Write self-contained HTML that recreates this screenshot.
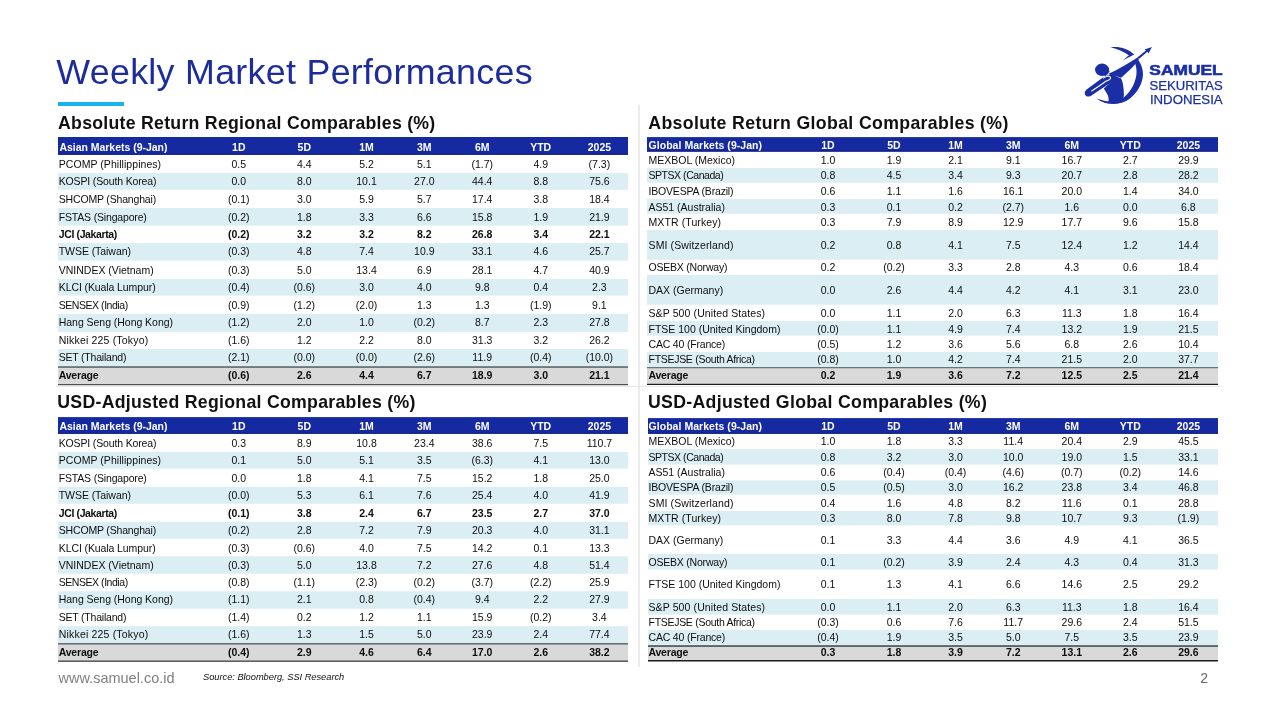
<!DOCTYPE html>
<html lang="en"><head><meta charset="utf-8"><title>Weekly Market Performances</title>
<style>
*{box-sizing:border-box}
html,body{margin:0;padding:0;background:#fff}
body{width:1280px;height:720px;position:relative;overflow:hidden;font-family:"Liberation Sans",Arial,sans-serif;color:#0d0d0d}
.bg{position:absolute;left:0;top:0}
.logo{position:absolute;left:1070px;top:30px}
.t{position:absolute;white-space:nowrap;line-height:14px;height:14px}
.title{color:#1c2c9c}
.sec{font-weight:700;color:#111}
.www{color:#808080}
.src{font-style:italic;color:#111}
.pg{color:#666}
.tbl{position:absolute;left:0;top:0;width:1280px;height:0}
.r{position:absolute;left:0;width:1280px;height:14px;line-height:14px;font-size:10.5px;white-space:nowrap}
.r span{position:absolute;top:0}
.c{width:60px;text-align:center}
.h{color:#fff;font-weight:700}
.b{font-weight:700}
</style></head>
<body>
<svg class="bg" width="1280" height="720" viewBox="0 0 1280 720">
<rect x="58.00" y="137.00" width="570.00" height="17.75" fill="#1529a0"/>
<rect x="58.00" y="153.75" width="570.00" height="1.00" fill="#0f1e84"/>
<rect x="58.00" y="173.10" width="570.00" height="16.65" fill="#daeef3"/>
<rect x="58.00" y="208.10" width="570.00" height="17.50" fill="#daeef3"/>
<rect x="58.00" y="243.10" width="570.00" height="17.50" fill="#daeef3"/>
<rect x="58.00" y="279.00" width="570.00" height="16.60" fill="#daeef3"/>
<rect x="58.00" y="314.00" width="570.00" height="17.90" fill="#daeef3"/>
<rect x="58.00" y="349.00" width="570.00" height="17.25" fill="#daeef3"/>
<rect x="58.00" y="366.25" width="570.00" height="1.65" fill="#566060"/>
<rect x="58.00" y="367.90" width="570.00" height="16.10" fill="#d9d9d9"/>
<rect x="58.00" y="384.00" width="570.00" height="1.25" fill="#505050"/>
<rect x="58.00" y="417.10" width="570.00" height="16.65" fill="#1529a0"/>
<rect x="58.00" y="432.75" width="570.00" height="1.00" fill="#0f1e84"/>
<rect x="58.00" y="451.90" width="570.00" height="16.85" fill="#daeef3"/>
<rect x="58.00" y="486.90" width="570.00" height="16.85" fill="#daeef3"/>
<rect x="58.00" y="521.90" width="570.00" height="16.85" fill="#daeef3"/>
<rect x="58.00" y="556.25" width="570.00" height="17.50" fill="#daeef3"/>
<rect x="58.00" y="591.25" width="570.00" height="17.50" fill="#daeef3"/>
<rect x="58.00" y="626.25" width="570.00" height="16.85" fill="#daeef3"/>
<rect x="58.00" y="643.10" width="570.00" height="1.65" fill="#566060"/>
<rect x="58.00" y="644.75" width="570.00" height="15.65" fill="#d9d9d9"/>
<rect x="58.00" y="660.40" width="570.00" height="1.50" fill="#505050"/>
<rect x="647.00" y="137.10" width="571.00" height="14.50" fill="#1529a0"/>
<rect x="647.00" y="150.60" width="571.00" height="1.00" fill="#0f1e84"/>
<rect x="647.00" y="168.10" width="571.00" height="14.65" fill="#daeef3"/>
<rect x="647.00" y="199.10" width="571.00" height="14.65" fill="#daeef3"/>
<rect x="647.00" y="230.00" width="571.00" height="29.70" fill="#daeef3"/>
<rect x="647.00" y="275.00" width="571.00" height="29.75" fill="#daeef3"/>
<rect x="647.00" y="321.00" width="571.00" height="14.70" fill="#daeef3"/>
<rect x="647.00" y="351.90" width="571.00" height="15.35" fill="#daeef3"/>
<rect x="647.00" y="367.25" width="571.00" height="1.25" fill="#3c4848"/>
<rect x="647.00" y="368.50" width="571.00" height="15.25" fill="#d9d9d9"/>
<rect x="647.00" y="383.75" width="571.00" height="1.25" fill="#1c1c1c"/>
<rect x="648.00" y="418.10" width="570.00" height="15.65" fill="#1529a0"/>
<rect x="648.00" y="432.75" width="570.00" height="1.00" fill="#0f1e84"/>
<rect x="648.00" y="449.10" width="570.00" height="15.50" fill="#daeef3"/>
<rect x="648.00" y="480.30" width="570.00" height="14.30" fill="#daeef3"/>
<rect x="648.00" y="511.00" width="570.00" height="14.40" fill="#daeef3"/>
<rect x="648.00" y="554.00" width="570.00" height="15.60" fill="#daeef3"/>
<rect x="648.00" y="599.00" width="570.00" height="15.60" fill="#daeef3"/>
<rect x="648.00" y="630.00" width="570.00" height="15.25" fill="#daeef3"/>
<rect x="648.00" y="645.25" width="570.00" height="1.65" fill="#3c4848"/>
<rect x="648.00" y="646.90" width="570.00" height="13.10" fill="#d9d9d9"/>
<rect x="648.00" y="660.00" width="570.00" height="1.50" fill="#1c1c1c"/>
<rect x="638.20" y="104.60" width="1.70" height="562.40" fill="#e8e8e8"/>
<rect x="55.70" y="385.80" width="1166.30" height="0.90" fill="#e2e2e2"/>
<rect x="58.00" y="102.00" width="66.00" height="4.00" fill="#19b4f0"/>
</svg>
<svg class="logo" width="160" height="80" viewBox="1070 30 160 80" aria-label="Samuel Sekuritas Indonesia">
<g transform="translate(1080 40) scale(0.0972)" fill="#1a2fa6">
<ellipse cx="227" cy="307" rx="72" ry="64"/>
<path d="M285 285 L304 322 L290 345 L262 372 L240 350Z"/>
<path d="M315 74 C400 62 500 88 558 150 L437 212 C465 190 490 170 503 158 C450 118 385 90 315 74Z"/>
<path d="M592 195 C628 240 650 300 648 355 C644 450 590 545 500 612 C410 672 270 682 168 598 C250 632 340 648 430 605 C510 550 565 460 580 360 C586 310 578 265 562 228Z"/>
<path d="M740 73 L705 140 L693 122 L606 196 L590 180 L678 107 L664 97Z"/>
<path d="M300 345 C400 300 500 240 592 180 L606 200 C590 228 545 278 474 343 L423 389 L368 371Z"/>
<path d="M300 340 C330 348 350 358 372 373 L423 395 C440 430 450 480 452 566 L440 640 L290 645 C300 610 295 575 270 540 L245 500 L330 420Z"/>
<path d="M75 505 L228 392 C255 378 285 360 310 352 C335 360 350 380 345 395 C350 415 335 430 315 440 L110 575 C85 590 55 580 50 555 C46 535 55 518 75 505Z"/>
<path d="M120 525 L212 463 L266 425 C290 416 310 406 314 394 C316 382 308 372 289 370 C272 372 258 380 240 392" fill="none" stroke="#fff" stroke-width="11" stroke-linecap="round" stroke-linejoin="round"/>
</g>
<g fill="#1a2fa6" font-family="Liberation Sans, Arial, sans-serif">
<text x="1149.3" y="75.300" font-size="14.5" font-weight="700" stroke="#1a2fa6" stroke-width=".55" textLength="73.4" lengthAdjust="spacingAndGlyphs">SAMUEL</text>
<text x="1149.5" y="90" font-size="12.700" stroke="#1a2fa6" stroke-width=".25" textLength="73.2" lengthAdjust="spacingAndGlyphs">SEKURITAS</text>
<text x="1149.9" y="104.300" font-size="12.700" stroke="#1a2fa6" stroke-width=".25" textLength="72.8" lengthAdjust="spacingAndGlyphs">INDONESIA</text>
</g>
</svg>
<div class="t title" style="left:56.30px;top:65.00px;font-size:35.8px;letter-spacing:0.297px;">Weekly Market Performances</div>
<div class="t sec" style="left:58.00px;top:115.75px;font-size:17.7px;letter-spacing:0.274px;">Absolute Return Regional Comparables (%)</div>
<div class="t sec" style="left:648.30px;top:115.75px;font-size:17.7px;letter-spacing:0.355px;">Absolute Return Global Comparables (%)</div>
<div class="t sec" style="left:57.30px;top:395.00px;font-size:17.7px;letter-spacing:0.282px;">USD-Adjusted Regional Comparables (%)</div>
<div class="t sec" style="left:648.00px;top:394.80px;font-size:17.7px;letter-spacing:0.310px;">USD-Adjusted Global Comparables (%)</div>
<div class="t www" style="left:58.50px;top:670.75px;font-size:14.5px;letter-spacing:-0.003px;">www.samuel.co.id</div>
<div class="t src" style="left:203.00px;top:669.75px;font-size:9.3px;letter-spacing:-0.028px;">Source: Bloomberg, SSI Research</div>
<div class="t pg" style="left:1200.30px;top:671.00px;font-size:14px;">2</div>
<div class="tbl l1">
<div class="r h" style="top:140.00px"><span class="c0" style="left:59.40px;letter-spacing:-0.025px">Asian Markets (9-Jan)</span><span class="c" style="left:208.80px">1D</span><span class="c" style="left:274.30px">5D</span><span class="c" style="left:336.50px">1M</span><span class="c" style="left:394.30px">3M</span><span class="c" style="left:452.20px">6M</span><span class="c" style="left:510.70px">YTD</span><span class="c" style="left:569.40px">2025</span></div>
<div class="r " style="top:157.10px"><span class="c0" style="left:58.75px;letter-spacing:0.053px">PCOMP (Phillippines)</span><span class="c" style="left:208.80px">0.5</span><span class="c" style="left:274.30px">4.4</span><span class="c" style="left:336.50px">5.2</span><span class="c" style="left:394.30px">5.1</span><span class="c" style="left:452.20px">(1.7)</span><span class="c" style="left:510.70px">4.9</span><span class="c" style="left:569.40px">(7.3)</span></div>
<div class="r " style="top:174.00px"><span class="c0" style="left:58.75px;letter-spacing:-0.153px">KOSPI (South Korea)</span><span class="c" style="left:208.80px">0.0</span><span class="c" style="left:274.30px">8.0</span><span class="c" style="left:336.50px">10.1</span><span class="c" style="left:394.30px">27.0</span><span class="c" style="left:452.20px">44.4</span><span class="c" style="left:510.70px">8.8</span><span class="c" style="left:569.40px">75.6</span></div>
<div class="r " style="top:191.90px"><span class="c0" style="left:58.75px;letter-spacing:-0.172px">SHCOMP (Shanghai)</span><span class="c" style="left:208.80px">(0.1)</span><span class="c" style="left:274.30px">3.0</span><span class="c" style="left:336.50px">5.9</span><span class="c" style="left:394.30px">5.7</span><span class="c" style="left:452.20px">17.4</span><span class="c" style="left:510.70px">3.8</span><span class="c" style="left:569.40px">18.4</span></div>
<div class="r " style="top:209.60px"><span class="c0" style="left:58.75px;letter-spacing:-0.172px">FSTAS (Singapore)</span><span class="c" style="left:208.80px">(0.2)</span><span class="c" style="left:274.30px">1.8</span><span class="c" style="left:336.50px">3.3</span><span class="c" style="left:394.30px">6.6</span><span class="c" style="left:452.20px">15.8</span><span class="c" style="left:510.70px">1.9</span><span class="c" style="left:569.40px">21.9</span></div>
<div class="r b" style="top:226.90px"><span class="c0" style="left:58.75px;letter-spacing:-0.375px">JCI (Jakarta)</span><span class="c" style="left:208.80px">(0.2)</span><span class="c" style="left:274.30px">3.2</span><span class="c" style="left:336.50px">3.2</span><span class="c" style="left:394.30px">8.2</span><span class="c" style="left:452.20px">26.8</span><span class="c" style="left:510.70px">3.4</span><span class="c" style="left:569.40px">22.1</span></div>
<div class="r " style="top:244.40px"><span class="c0" style="left:58.75px;letter-spacing:-0.062px">TWSE (Taiwan)</span><span class="c" style="left:208.80px">(0.3)</span><span class="c" style="left:274.30px">4.8</span><span class="c" style="left:336.50px">7.4</span><span class="c" style="left:394.30px">10.9</span><span class="c" style="left:452.20px">33.1</span><span class="c" style="left:510.70px">4.6</span><span class="c" style="left:569.40px">25.7</span></div>
<div class="r " style="top:262.75px"><span class="c0" style="left:58.75px">VNINDEX (Vietnam)</span><span class="c" style="left:208.80px">(0.3)</span><span class="c" style="left:274.30px">5.0</span><span class="c" style="left:336.50px">13.4</span><span class="c" style="left:394.30px">6.9</span><span class="c" style="left:452.20px">28.1</span><span class="c" style="left:510.70px">4.7</span><span class="c" style="left:569.40px">40.9</span></div>
<div class="r " style="top:280.00px"><span class="c0" style="left:58.75px;letter-spacing:-0.097px">KLCI (Kuala Lumpur)</span><span class="c" style="left:208.80px">(0.4)</span><span class="c" style="left:274.30px">(0.6)</span><span class="c" style="left:336.50px">3.0</span><span class="c" style="left:394.30px">4.0</span><span class="c" style="left:452.20px">9.8</span><span class="c" style="left:510.70px">0.4</span><span class="c" style="left:569.40px">2.3</span></div>
<div class="r " style="top:297.50px"><span class="c0" style="left:58.75px;letter-spacing:-0.454px">SENSEX (India)</span><span class="c" style="left:208.80px">(0.9)</span><span class="c" style="left:274.30px">(1.2)</span><span class="c" style="left:336.50px">(2.0)</span><span class="c" style="left:394.30px">1.3</span><span class="c" style="left:452.20px">1.3</span><span class="c" style="left:510.70px">(1.9)</span><span class="c" style="left:569.40px">9.1</span></div>
<div class="r " style="top:315.25px"><span class="c0" style="left:58.75px;letter-spacing:-0.038px">Hang Seng (Hong Kong)</span><span class="c" style="left:208.80px">(1.2)</span><span class="c" style="left:274.30px">2.0</span><span class="c" style="left:336.50px">1.0</span><span class="c" style="left:394.30px">(0.2)</span><span class="c" style="left:452.20px">8.7</span><span class="c" style="left:510.70px">2.3</span><span class="c" style="left:569.40px">27.8</span></div>
<div class="r " style="top:332.50px"><span class="c0" style="left:58.75px;letter-spacing:0.182px">Nikkei 225 (Tokyo)</span><span class="c" style="left:208.80px">(1.6)</span><span class="c" style="left:274.30px">1.2</span><span class="c" style="left:336.50px">2.2</span><span class="c" style="left:394.30px">8.0</span><span class="c" style="left:452.20px">31.3</span><span class="c" style="left:510.70px">3.2</span><span class="c" style="left:569.40px">26.2</span></div>
<div class="r " style="top:350.00px"><span class="c0" style="left:58.75px;letter-spacing:-0.212px">SET (Thailand)</span><span class="c" style="left:208.80px">(2.1)</span><span class="c" style="left:274.30px">(0.0)</span><span class="c" style="left:336.50px">(0.0)</span><span class="c" style="left:394.30px">(2.6)</span><span class="c" style="left:452.20px">11.9</span><span class="c" style="left:510.70px">(0.4)</span><span class="c" style="left:569.40px">(10.0)</span></div>
<div class="r b" style="top:367.75px"><span class="c0" style="left:58.75px;letter-spacing:-0.208px">Average</span><span class="c" style="left:208.80px">(0.6)</span><span class="c" style="left:274.30px">2.6</span><span class="c" style="left:336.50px">4.4</span><span class="c" style="left:394.30px">6.7</span><span class="c" style="left:452.20px">18.9</span><span class="c" style="left:510.70px">3.0</span><span class="c" style="left:569.40px">21.1</span></div>
</div>
<div class="tbl l2">
<div class="r h" style="top:418.75px"><span class="c0" style="left:59.40px;letter-spacing:-0.025px">Asian Markets (9-Jan)</span><span class="c" style="left:208.80px">1D</span><span class="c" style="left:274.30px">5D</span><span class="c" style="left:336.50px">1M</span><span class="c" style="left:394.30px">3M</span><span class="c" style="left:452.20px">6M</span><span class="c" style="left:510.70px">YTD</span><span class="c" style="left:569.40px">2025</span></div>
<div class="r " style="top:435.90px"><span class="c0" style="left:58.75px;letter-spacing:-0.153px">KOSPI (South Korea)</span><span class="c" style="left:208.80px">0.3</span><span class="c" style="left:274.30px">8.9</span><span class="c" style="left:336.50px">10.8</span><span class="c" style="left:394.30px">23.4</span><span class="c" style="left:452.20px">38.6</span><span class="c" style="left:510.70px">7.5</span><span class="c" style="left:569.40px">110.7</span></div>
<div class="r " style="top:453.00px"><span class="c0" style="left:58.75px;letter-spacing:0.053px">PCOMP (Phillippines)</span><span class="c" style="left:208.80px">0.1</span><span class="c" style="left:274.30px">5.0</span><span class="c" style="left:336.50px">5.1</span><span class="c" style="left:394.30px">3.5</span><span class="c" style="left:452.20px">(6.3)</span><span class="c" style="left:510.70px">4.1</span><span class="c" style="left:569.40px">13.0</span></div>
<div class="r " style="top:470.50px"><span class="c0" style="left:58.75px;letter-spacing:-0.172px">FSTAS (Singapore)</span><span class="c" style="left:208.80px">0.0</span><span class="c" style="left:274.30px">1.8</span><span class="c" style="left:336.50px">4.1</span><span class="c" style="left:394.30px">7.5</span><span class="c" style="left:452.20px">15.2</span><span class="c" style="left:510.70px">1.8</span><span class="c" style="left:569.40px">25.0</span></div>
<div class="r " style="top:487.50px"><span class="c0" style="left:58.75px;letter-spacing:-0.062px">TWSE (Taiwan)</span><span class="c" style="left:208.80px">(0.0)</span><span class="c" style="left:274.30px">5.3</span><span class="c" style="left:336.50px">6.1</span><span class="c" style="left:394.30px">7.6</span><span class="c" style="left:452.20px">25.4</span><span class="c" style="left:510.70px">4.0</span><span class="c" style="left:569.40px">41.9</span></div>
<div class="r b" style="top:505.50px"><span class="c0" style="left:58.75px;letter-spacing:-0.375px">JCI (Jakarta)</span><span class="c" style="left:208.80px">(0.1)</span><span class="c" style="left:274.30px">3.8</span><span class="c" style="left:336.50px">2.4</span><span class="c" style="left:394.30px">6.7</span><span class="c" style="left:452.20px">23.5</span><span class="c" style="left:510.70px">2.7</span><span class="c" style="left:569.40px">37.0</span></div>
<div class="r " style="top:522.50px"><span class="c0" style="left:58.75px;letter-spacing:-0.172px">SHCOMP (Shanghai)</span><span class="c" style="left:208.80px">(0.2)</span><span class="c" style="left:274.30px">2.8</span><span class="c" style="left:336.50px">7.2</span><span class="c" style="left:394.30px">7.9</span><span class="c" style="left:452.20px">20.3</span><span class="c" style="left:510.70px">4.0</span><span class="c" style="left:569.40px">31.1</span></div>
<div class="r " style="top:540.50px"><span class="c0" style="left:58.75px;letter-spacing:-0.097px">KLCI (Kuala Lumpur)</span><span class="c" style="left:208.80px">(0.3)</span><span class="c" style="left:274.30px">(0.6)</span><span class="c" style="left:336.50px">4.0</span><span class="c" style="left:394.30px">7.5</span><span class="c" style="left:452.20px">14.2</span><span class="c" style="left:510.70px">0.1</span><span class="c" style="left:569.40px">13.3</span></div>
<div class="r " style="top:557.50px"><span class="c0" style="left:58.75px">VNINDEX (Vietnam)</span><span class="c" style="left:208.80px">(0.3)</span><span class="c" style="left:274.30px">5.0</span><span class="c" style="left:336.50px">13.8</span><span class="c" style="left:394.30px">7.2</span><span class="c" style="left:452.20px">27.6</span><span class="c" style="left:510.70px">4.8</span><span class="c" style="left:569.40px">51.4</span></div>
<div class="r " style="top:574.60px"><span class="c0" style="left:58.75px;letter-spacing:-0.454px">SENSEX (India)</span><span class="c" style="left:208.80px">(0.8)</span><span class="c" style="left:274.30px">(1.1)</span><span class="c" style="left:336.50px">(2.3)</span><span class="c" style="left:394.30px">(0.2)</span><span class="c" style="left:452.20px">(3.7)</span><span class="c" style="left:510.70px">(2.2)</span><span class="c" style="left:569.40px">25.9</span></div>
<div class="r " style="top:592.10px"><span class="c0" style="left:58.75px;letter-spacing:-0.038px">Hang Seng (Hong Kong)</span><span class="c" style="left:208.80px">(1.1)</span><span class="c" style="left:274.30px">2.1</span><span class="c" style="left:336.50px">0.8</span><span class="c" style="left:394.30px">(0.4)</span><span class="c" style="left:452.20px">9.4</span><span class="c" style="left:510.70px">2.2</span><span class="c" style="left:569.40px">27.9</span></div>
<div class="r " style="top:609.60px"><span class="c0" style="left:58.75px;letter-spacing:-0.212px">SET (Thailand)</span><span class="c" style="left:208.80px">(1.4)</span><span class="c" style="left:274.30px">0.2</span><span class="c" style="left:336.50px">1.2</span><span class="c" style="left:394.30px">1.1</span><span class="c" style="left:452.20px">15.9</span><span class="c" style="left:510.70px">(0.2)</span><span class="c" style="left:569.40px">3.4</span></div>
<div class="r " style="top:627.10px"><span class="c0" style="left:58.75px;letter-spacing:0.182px">Nikkei 225 (Tokyo)</span><span class="c" style="left:208.80px">(1.6)</span><span class="c" style="left:274.30px">1.3</span><span class="c" style="left:336.50px">1.5</span><span class="c" style="left:394.30px">5.0</span><span class="c" style="left:452.20px">23.9</span><span class="c" style="left:510.70px">2.4</span><span class="c" style="left:569.40px">77.4</span></div>
<div class="r b" style="top:644.60px"><span class="c0" style="left:58.75px;letter-spacing:-0.208px">Average</span><span class="c" style="left:208.80px">(0.4)</span><span class="c" style="left:274.30px">2.9</span><span class="c" style="left:336.50px">4.6</span><span class="c" style="left:394.30px">6.4</span><span class="c" style="left:452.20px">17.0</span><span class="c" style="left:510.70px">2.6</span><span class="c" style="left:569.40px">38.2</span></div>
</div>
<div class="tbl r1">
<div class="r h" style="top:137.50px"><span class="c0" style="left:648.50px;letter-spacing:0.043px">Global Markets (9-Jan)</span><span class="c" style="left:798.00px">1D</span><span class="c" style="left:864.00px">5D</span><span class="c" style="left:925.50px">1M</span><span class="c" style="left:983.20px">3M</span><span class="c" style="left:1041.80px">6M</span><span class="c" style="left:1100.30px">YTD</span><span class="c" style="left:1158.40px">2025</span></div>
<div class="r " style="top:152.75px"><span class="c0" style="left:648.50px">MEXBOL (Mexico)</span><span class="c" style="left:798.00px">1.0</span><span class="c" style="left:864.00px">1.9</span><span class="c" style="left:925.50px">2.1</span><span class="c" style="left:983.20px">9.1</span><span class="c" style="left:1041.80px">16.7</span><span class="c" style="left:1100.30px">2.7</span><span class="c" style="left:1158.40px">29.9</span></div>
<div class="r " style="top:168.00px"><span class="c0" style="left:648.50px;letter-spacing:-0.454px">SPTSX (Canada)</span><span class="c" style="left:798.00px">0.8</span><span class="c" style="left:864.00px">4.5</span><span class="c" style="left:925.50px">3.4</span><span class="c" style="left:983.20px">9.3</span><span class="c" style="left:1041.80px">20.7</span><span class="c" style="left:1100.30px">2.8</span><span class="c" style="left:1158.40px">28.2</span></div>
<div class="r " style="top:183.75px"><span class="c0" style="left:648.50px;letter-spacing:-0.181px">IBOVESPA (Brazil)</span><span class="c" style="left:798.00px">0.6</span><span class="c" style="left:864.00px">1.1</span><span class="c" style="left:925.50px">1.6</span><span class="c" style="left:983.20px">16.1</span><span class="c" style="left:1041.80px">20.0</span><span class="c" style="left:1100.30px">1.4</span><span class="c" style="left:1158.40px">34.0</span></div>
<div class="r " style="top:199.60px"><span class="c0" style="left:648.50px">AS51 (Australia)</span><span class="c" style="left:798.00px">0.3</span><span class="c" style="left:864.00px">0.1</span><span class="c" style="left:925.50px">0.2</span><span class="c" style="left:983.20px">(2.7)</span><span class="c" style="left:1041.80px">1.6</span><span class="c" style="left:1100.30px">0.0</span><span class="c" style="left:1158.40px">6.8</span></div>
<div class="r " style="top:215.00px"><span class="c0" style="left:648.50px;letter-spacing:0.104px">MXTR (Turkey)</span><span class="c" style="left:798.00px">0.3</span><span class="c" style="left:864.00px">7.9</span><span class="c" style="left:925.50px">8.9</span><span class="c" style="left:983.20px">12.9</span><span class="c" style="left:1041.80px">17.7</span><span class="c" style="left:1100.30px">9.6</span><span class="c" style="left:1158.40px">15.8</span></div>
<div class="r " style="top:237.50px"><span class="c0" style="left:648.50px;letter-spacing:0.131px">SMI (Switzerland)</span><span class="c" style="left:798.00px">0.2</span><span class="c" style="left:864.00px">0.8</span><span class="c" style="left:925.50px">4.1</span><span class="c" style="left:983.20px">7.5</span><span class="c" style="left:1041.80px">12.4</span><span class="c" style="left:1100.30px">1.2</span><span class="c" style="left:1158.40px">14.4</span></div>
<div class="r " style="top:259.60px"><span class="c0" style="left:648.50px;letter-spacing:-0.212px">OSEBX (Norway)</span><span class="c" style="left:798.00px">0.2</span><span class="c" style="left:864.00px">(0.2)</span><span class="c" style="left:925.50px">3.3</span><span class="c" style="left:983.20px">2.8</span><span class="c" style="left:1041.80px">4.3</span><span class="c" style="left:1100.30px">0.6</span><span class="c" style="left:1158.40px">18.4</span></div>
<div class="r " style="top:283.00px"><span class="c0" style="left:648.50px">DAX (Germany)</span><span class="c" style="left:798.00px">0.0</span><span class="c" style="left:864.00px">2.6</span><span class="c" style="left:925.50px">4.4</span><span class="c" style="left:983.20px">4.2</span><span class="c" style="left:1041.80px">4.1</span><span class="c" style="left:1100.30px">3.1</span><span class="c" style="left:1158.40px">23.0</span></div>
<div class="r " style="top:305.60px"><span class="c0" style="left:648.50px;letter-spacing:0.109px">S&amp;P 500 (United States)</span><span class="c" style="left:798.00px">0.0</span><span class="c" style="left:864.00px">1.1</span><span class="c" style="left:925.50px">2.0</span><span class="c" style="left:983.20px">6.3</span><span class="c" style="left:1041.80px">11.3</span><span class="c" style="left:1100.30px">1.8</span><span class="c" style="left:1158.40px">16.4</span></div>
<div class="r " style="top:322.10px"><span class="c0" style="left:648.50px">FTSE 100 (United Kingdom)</span><span class="c" style="left:798.00px">(0.0)</span><span class="c" style="left:864.00px">1.1</span><span class="c" style="left:925.50px">4.9</span><span class="c" style="left:983.20px">7.4</span><span class="c" style="left:1041.80px">13.2</span><span class="c" style="left:1100.30px">1.9</span><span class="c" style="left:1158.40px">21.5</span></div>
<div class="r " style="top:336.50px"><span class="c0" style="left:648.50px;letter-spacing:-0.186px">CAC 40 (France)</span><span class="c" style="left:798.00px">(0.5)</span><span class="c" style="left:864.00px">1.2</span><span class="c" style="left:925.50px">3.6</span><span class="c" style="left:983.20px">5.6</span><span class="c" style="left:1041.80px">6.8</span><span class="c" style="left:1100.30px">2.6</span><span class="c" style="left:1158.40px">10.4</span></div>
<div class="r " style="top:352.10px"><span class="c0" style="left:648.50px;letter-spacing:-0.286px">FTSEJSE (South Africa)</span><span class="c" style="left:798.00px">(0.8)</span><span class="c" style="left:864.00px">1.0</span><span class="c" style="left:925.50px">4.2</span><span class="c" style="left:983.20px">7.4</span><span class="c" style="left:1041.80px">21.5</span><span class="c" style="left:1100.30px">2.0</span><span class="c" style="left:1158.40px">37.7</span></div>
<div class="r b" style="top:368.40px"><span class="c0" style="left:648.50px;letter-spacing:-0.208px">Average</span><span class="c" style="left:798.00px">0.2</span><span class="c" style="left:864.00px">1.9</span><span class="c" style="left:925.50px">3.6</span><span class="c" style="left:983.20px">7.2</span><span class="c" style="left:1041.80px">12.5</span><span class="c" style="left:1100.30px">2.5</span><span class="c" style="left:1158.40px">21.4</span></div>
</div>
<div class="tbl r2">
<div class="r h" style="top:419.00px"><span class="c0" style="left:648.50px;letter-spacing:0.043px">Global Markets (9-Jan)</span><span class="c" style="left:798.00px">1D</span><span class="c" style="left:864.00px">5D</span><span class="c" style="left:925.50px">1M</span><span class="c" style="left:983.20px">3M</span><span class="c" style="left:1041.80px">6M</span><span class="c" style="left:1100.30px">YTD</span><span class="c" style="left:1158.40px">2025</span></div>
<div class="r " style="top:433.75px"><span class="c0" style="left:648.50px">MEXBOL (Mexico)</span><span class="c" style="left:798.00px">1.0</span><span class="c" style="left:864.00px">1.8</span><span class="c" style="left:925.50px">3.3</span><span class="c" style="left:983.20px">11.4</span><span class="c" style="left:1041.80px">20.4</span><span class="c" style="left:1100.30px">2.9</span><span class="c" style="left:1158.40px">45.5</span></div>
<div class="r " style="top:449.60px"><span class="c0" style="left:648.50px;letter-spacing:-0.454px">SPTSX (Canada)</span><span class="c" style="left:798.00px">0.8</span><span class="c" style="left:864.00px">3.2</span><span class="c" style="left:925.50px">3.0</span><span class="c" style="left:983.20px">10.0</span><span class="c" style="left:1041.80px">19.0</span><span class="c" style="left:1100.30px">1.5</span><span class="c" style="left:1158.40px">33.1</span></div>
<div class="r " style="top:464.90px"><span class="c0" style="left:648.50px">AS51 (Australia)</span><span class="c" style="left:798.00px">0.6</span><span class="c" style="left:864.00px">(0.4)</span><span class="c" style="left:925.50px">(0.4)</span><span class="c" style="left:983.20px">(4.6)</span><span class="c" style="left:1041.80px">(0.7)</span><span class="c" style="left:1100.30px">(0.2)</span><span class="c" style="left:1158.40px">14.6</span></div>
<div class="r " style="top:479.60px"><span class="c0" style="left:648.50px;letter-spacing:-0.181px">IBOVESPA (Brazil)</span><span class="c" style="left:798.00px">0.5</span><span class="c" style="left:864.00px">(0.5)</span><span class="c" style="left:925.50px">3.0</span><span class="c" style="left:983.20px">16.2</span><span class="c" style="left:1041.80px">23.8</span><span class="c" style="left:1100.30px">3.4</span><span class="c" style="left:1158.40px">46.8</span></div>
<div class="r " style="top:495.60px"><span class="c0" style="left:648.50px;letter-spacing:0.131px">SMI (Switzerland)</span><span class="c" style="left:798.00px">0.4</span><span class="c" style="left:864.00px">1.6</span><span class="c" style="left:925.50px">4.8</span><span class="c" style="left:983.20px">8.2</span><span class="c" style="left:1041.80px">11.6</span><span class="c" style="left:1100.30px">0.1</span><span class="c" style="left:1158.40px">28.8</span></div>
<div class="r " style="top:510.60px"><span class="c0" style="left:648.50px;letter-spacing:0.104px">MXTR (Turkey)</span><span class="c" style="left:798.00px">0.3</span><span class="c" style="left:864.00px">8.0</span><span class="c" style="left:925.50px">7.8</span><span class="c" style="left:983.20px">9.8</span><span class="c" style="left:1041.80px">10.7</span><span class="c" style="left:1100.30px">9.3</span><span class="c" style="left:1158.40px">(1.9)</span></div>
<div class="r " style="top:532.75px"><span class="c0" style="left:648.50px">DAX (Germany)</span><span class="c" style="left:798.00px">0.1</span><span class="c" style="left:864.00px">3.3</span><span class="c" style="left:925.50px">4.4</span><span class="c" style="left:983.20px">3.6</span><span class="c" style="left:1041.80px">4.9</span><span class="c" style="left:1100.30px">4.1</span><span class="c" style="left:1158.40px">36.5</span></div>
<div class="r " style="top:554.60px"><span class="c0" style="left:648.50px;letter-spacing:-0.212px">OSEBX (Norway)</span><span class="c" style="left:798.00px">0.1</span><span class="c" style="left:864.00px">(0.2)</span><span class="c" style="left:925.50px">3.9</span><span class="c" style="left:983.20px">2.4</span><span class="c" style="left:1041.80px">4.3</span><span class="c" style="left:1100.30px">0.4</span><span class="c" style="left:1158.40px">31.3</span></div>
<div class="r " style="top:576.90px"><span class="c0" style="left:648.50px">FTSE 100 (United Kingdom)</span><span class="c" style="left:798.00px">0.1</span><span class="c" style="left:864.00px">1.3</span><span class="c" style="left:925.50px">4.1</span><span class="c" style="left:983.20px">6.6</span><span class="c" style="left:1041.80px">14.6</span><span class="c" style="left:1100.30px">2.5</span><span class="c" style="left:1158.40px">29.2</span></div>
<div class="r " style="top:599.90px"><span class="c0" style="left:648.50px;letter-spacing:0.109px">S&amp;P 500 (United States)</span><span class="c" style="left:798.00px">0.0</span><span class="c" style="left:864.00px">1.1</span><span class="c" style="left:925.50px">2.0</span><span class="c" style="left:983.20px">6.3</span><span class="c" style="left:1041.80px">11.3</span><span class="c" style="left:1100.30px">1.8</span><span class="c" style="left:1158.40px">16.4</span></div>
<div class="r " style="top:614.60px"><span class="c0" style="left:648.50px;letter-spacing:-0.286px">FTSEJSE (South Africa)</span><span class="c" style="left:798.00px">(0.3)</span><span class="c" style="left:864.00px">0.6</span><span class="c" style="left:925.50px">7.6</span><span class="c" style="left:983.20px">11.7</span><span class="c" style="left:1041.80px">29.6</span><span class="c" style="left:1100.30px">2.4</span><span class="c" style="left:1158.40px">51.5</span></div>
<div class="r " style="top:630.25px"><span class="c0" style="left:648.50px;letter-spacing:-0.186px">CAC 40 (France)</span><span class="c" style="left:798.00px">(0.4)</span><span class="c" style="left:864.00px">1.9</span><span class="c" style="left:925.50px">3.5</span><span class="c" style="left:983.20px">5.0</span><span class="c" style="left:1041.80px">7.5</span><span class="c" style="left:1100.30px">3.5</span><span class="c" style="left:1158.40px">23.9</span></div>
<div class="r b" style="top:645.25px"><span class="c0" style="left:648.50px;letter-spacing:-0.208px">Average</span><span class="c" style="left:798.00px">0.3</span><span class="c" style="left:864.00px">1.8</span><span class="c" style="left:925.50px">3.9</span><span class="c" style="left:983.20px">7.2</span><span class="c" style="left:1041.80px">13.1</span><span class="c" style="left:1100.30px">2.6</span><span class="c" style="left:1158.40px">29.6</span></div>
</div>
</body></html>
